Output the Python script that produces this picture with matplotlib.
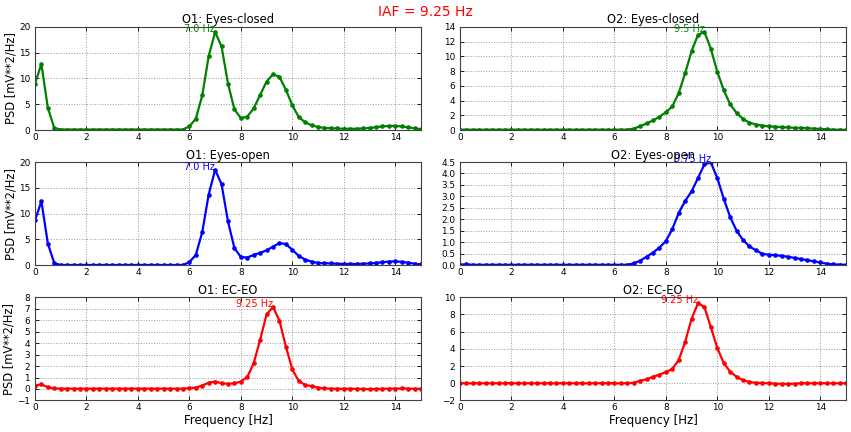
import numpy as np
import matplotlib
matplotlib.use("Agg")
import matplotlib.pyplot as plt

freqs = np.linspace(0, 15, 61)

o1_closed = [9.0, 12.8, 4.3, 0.4] + [0.1] * 20 + [
    0.7, 2.2, 6.7, 14.3, 19.0, 16.2, 9.0, 4.0, 2.3, 2.6, 4.2, 6.8, 9.4, 10.8, 10.3, 7.8,
    4.8, 2.5, 1.5, 0.9, 0.6, 0.4, 0.35, 0.3, 0.25, 0.25, 0.25, 0.3, 0.4, 0.55, 0.7, 0.8,
    0.8, 0.7, 0.5, 0.35, 0.15]
o2_closed = [0.05] * 27 + [
    0.2, 0.5, 0.9, 1.3, 1.8, 2.4, 3.2, 5.0, 7.7, 10.7, 12.9, 13.3, 11.0, 7.9, 5.4, 3.5,
    2.3, 1.5, 1.0, 0.75, 0.6, 0.5, 0.45, 0.4, 0.35, 0.3, 0.3, 0.25, 0.2, 0.15, 0.1, 0.05,
    0.05, 0.03]
o1_open = [8.7, 12.4, 4.2, 0.4] + [0.05] * 20 + [
    0.6, 2.0, 6.4, 13.7, 18.5, 15.7, 8.5, 3.3, 1.6, 1.5, 2.0, 2.4, 2.9, 3.6, 4.3, 4.1,
    3.0, 1.8, 1.1, 0.7, 0.45, 0.4, 0.35, 0.3, 0.25, 0.25, 0.25, 0.3, 0.35, 0.45, 0.6, 0.7,
    0.75, 0.65, 0.5, 0.3, 0.15]
o2_open = [0.03, 0.04] + [0.02] * 25 + [
    0.08, 0.2, 0.37, 0.55, 0.77, 1.05, 1.57, 2.28, 2.8, 3.22, 3.8, 4.4, 4.48, 3.8, 2.9, 2.1,
    1.5, 1.1, 0.82, 0.65, 0.5, 0.46, 0.44, 0.41, 0.37, 0.32, 0.27, 0.22, 0.17, 0.12, 0.07,
    0.04, 0.03, 0.02]
o1_diff = [0.3, 0.4, 0.15, 0.05] + [0.03] * 20 + [
    0.08, 0.12, 0.3, 0.55, 0.65, 0.5, 0.45, 0.5, 0.65, 1.05, 2.25, 4.3, 6.5, 7.15, 5.95, 3.7,
    1.7, 0.7, 0.35, 0.25, 0.12, 0.05, 0.03, 0.02, 0.02, 0.02, 0.02, 0.0, -0.02, 0.0, 0.02,
    0.03, 0.03, 0.05, 0.03, 0.02, 0.02]
o2_diff = [0.0] * 27 + [
    0.05, 0.3, 0.45, 0.75, 1.0, 1.3, 1.65, 2.7, 4.8, 7.5, 9.3, 8.85, 6.5, 4.1, 2.35, 1.35,
    0.75, 0.35, 0.15, 0.05, 0.02, 0.0, -0.05, -0.07, -0.07, -0.05, 0.0, 0.0, 0.0, 0.0,
    0.0, 0.0, 0.0, 0.0]

titles = ["O1: Eyes-closed", "O2: Eyes-closed", "O1: Eyes-open", "O2: Eyes-open",
          "O1: EC-EO", "O2: EC-EO"]
series = [o1_closed, o2_closed, o1_open, o2_open, o1_diff, o2_diff]
colors = ["g", "g", "b", "b", "r", "r"]
ylims = [(0, 20), (0, 14), (0, 20), (0, 4.5), (-1, 8), (-2, 10)]
ysteps = [5, 2, 5, 0.5, 1, 2]
xticks = [0, 2, 4, 6, 8, 10, 12, 14]
suptitle = "IAF = 9.25 Hz"
ylabel = "PSD [mV**2/Hz]"
xlabel = "Frequency [Hz]"

plt.rcParams['font.family'] = ['DejaVu Sans']

fig = plt.figure(figsize=(8.51, 4.32), dpi=100)
fig.patch.set_facecolor('white')

lefts = [0.0411, 0.5405]
bottoms = [0.699, 0.386, 0.073]
w, h = 0.4536, 0.2390

for i in range(6):
    r, c = divmod(i, 2)
    ax = fig.add_axes([lefts[c], bottoms[r], w, h])
    y = np.array(series[i])
    ax.plot(freqs, y, color=colors[i], lw=1.6, marker='o', ms=2.3,
            mec=colors[i], mfc=colors[i])
    ax.set_xlim(0, 15)
    ax.set_ylim(*ylims[i])
    ax.set_xticks(xticks)
    lo, hi = ylims[i]
    ax.set_yticks(np.arange(lo, hi + 1e-9, ysteps[i]))
    ax.grid(True, ls=':', color='0.6', lw=0.7)
    ax.tick_params(direction='in', top=True, right=True, length=3, width=0.6,
                   labelsize=6.4)
    ax.tick_params(axis='x', pad=2)
    ax.tick_params(axis='y', pad=3.5)
    for s in ax.spines.values():
        s.set_linewidth(0.8)
        s.set_color('0.25')
    ax.set_title(titles[i], fontsize=8.3, pad=2.5)
    k = int(np.argmax(y))
    ax.text(freqs[k], y[k], f"{freqs[k]} Hz", color=colors[i], fontsize=7,
            ha='right', va='baseline')
    if c == 0:
        ax.set_ylabel(ylabel, fontsize=8.3, labelpad=1)
    if r == 2:
        ax.set_xlabel(xlabel, fontsize=8.5, labelpad=1)

fig.text(0.5, 0.972, suptitle, color='red', fontsize=10, ha='center', va='center')

fig.savefig("out.png", dpi=100, facecolor='white')
